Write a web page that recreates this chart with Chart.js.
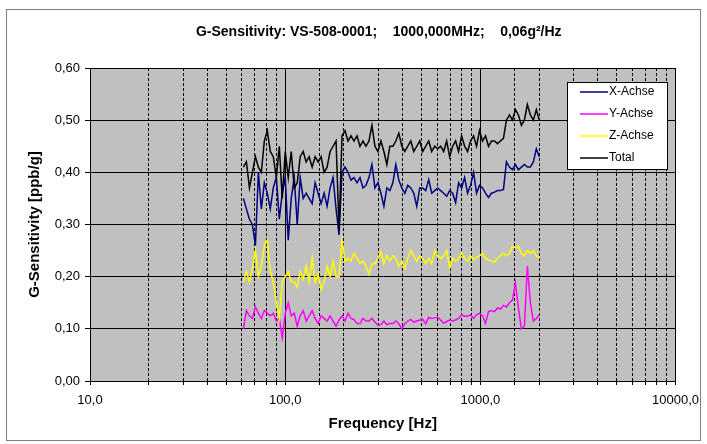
<!DOCTYPE html>
<html>
<head>
<meta charset="utf-8">
<script src="https://cdn.jsdelivr.net/npm/chart.js@4"></script>
<style>
html,body{margin:0;padding:0;background:#fff;}
#wrap{width:707px;height:444px;position:relative;}
</style>
</head>
<body>
<div id="wrap"><canvas id="c"></canvas></div>
<script>
// ---- data ----
const chartTitle = 'G-Sensitivity: VS-508-0001;    1000,000MHz;    0,06g\u00B2/Hz';
const xAxisTitle = 'Frequency [Hz]';
const yAxisTitle = 'G-Sensitivity [ppb/g]';
const seriesNames = ['X-Achse', 'Y-Achse', 'Z-Achse', 'Total'];
const xTickLabels = {10: '10,0', 100: '100,0', 1000: '1000,0', 10000: '10000,0'};

const freqHz = [
  61.1, 63.3, 65.6, 67.9, 70.4, 72.9, 75.5, 78.2, 81.0, 83.9,
  86.9, 90.1, 93.3, 96.6, 100.1, 103.7, 107.4, 111.3, 115.3, 119.4,
  123.7, 128.1, 132.7, 137.5, 142.4, 147.5, 152.8, 158.3, 164.0, 169.9,
  176.0, 182.3, 188.8, 195.6, 202.6, 209.9, 217.4, 225.2, 233.3, 241.7,
  250.4, 259.4, 268.7, 278.3, 288.3, 298.7, 309.4, 320.5, 332.0, 343.9,
  356.2, 369.0, 382.3, 396.0, 410.2, 424.9, 440.2, 456.0, 472.3, 489.3,
  506.8, 525.0, 543.9, 563.4, 583.6, 604.6, 626.3, 648.8, 672.1, 696.2,
  721.2, 747.1, 773.9, 801.7, 830.5, 860.3, 891.2, 923.2, 956.3, 990.6,
  1026.2, 1063.0, 1101.2, 1140.7, 1181.7, 1224.1, 1268.0, 1313.5, 1360.7, 1409.5,
  1460.1, 1512.5, 1566.8, 1623.1, 1681.3, 1741.7, 1804.2, 1868.9, 1936.0, 2005.5
];

const xAchse = [
  0.35, 0.33, 0.31, 0.30, 0.26, 0.40, 0.33, 0.38, 0.36, 0.33,
  0.37, 0.39, 0.31, 0.36, 0.39, 0.27, 0.35, 0.39, 0.30, 0.39,
  0.35, 0.36, 0.35, 0.34, 0.38, 0.36, 0.34, 0.36, 0.335, 0.37,
  0.39, 0.33, 0.28, 0.40, 0.41, 0.40, 0.385, 0.39, 0.38, 0.39,
  0.37, 0.375, 0.39, 0.415, 0.37, 0.38, 0.36, 0.335, 0.37, 0.365,
  0.38, 0.415, 0.385, 0.37, 0.36, 0.375, 0.37, 0.36, 0.335, 0.37,
  0.37, 0.365, 0.386, 0.36, 0.365, 0.37, 0.365, 0.36, 0.354, 0.365,
  0.36, 0.342, 0.38, 0.37, 0.39, 0.36, 0.375, 0.40, 0.36, 0.375,
  0.37, 0.36, 0.352, 0.36, 0.362, 0.365, 0.365, 0.367, 0.42, 0.41,
  0.405, 0.415, 0.405, 0.41, 0.415, 0.41, 0.41, 0.42, 0.445, 0.43
];

const yAchse = [
  0.10, 0.135, 0.125, 0.12, 0.142, 0.13, 0.12, 0.135, 0.13, 0.125,
  0.13, 0.115, 0.12, 0.083, 0.13, 0.15, 0.125, 0.13, 0.105, 0.125,
  0.135, 0.115, 0.125, 0.135, 0.12, 0.11, 0.125, 0.12, 0.115, 0.125,
  0.115, 0.105, 0.117, 0.125, 0.115, 0.13, 0.12, 0.118, 0.11, 0.11,
  0.12, 0.115, 0.115, 0.12, 0.113, 0.107, 0.108, 0.115, 0.108, 0.11,
  0.11, 0.115, 0.11, 0.10, 0.11, 0.115, 0.118, 0.113, 0.115, 0.117,
  0.118, 0.11, 0.122, 0.12, 0.121, 0.122, 0.117, 0.111, 0.114, 0.117,
  0.115, 0.117, 0.12, 0.127, 0.124, 0.124, 0.127, 0.12, 0.127, 0.13,
  0.125, 0.11, 0.133, 0.135, 0.133, 0.14, 0.138, 0.145, 0.142, 0.15,
  0.155, 0.188, 0.14, 0.10, 0.105, 0.22, 0.15, 0.115, 0.12, 0.127
];

const zAchse = [
  0.19, 0.21, 0.19, 0.215, 0.25, 0.20, 0.22, 0.26, 0.27, 0.21,
  0.19, 0.15, 0.12, 0.19, 0.20, 0.21, 0.19, 0.19, 0.18, 0.21,
  0.195, 0.22, 0.19, 0.235, 0.19, 0.205, 0.175, 0.19, 0.22, 0.20,
  0.23, 0.20, 0.20, 0.27, 0.23, 0.235, 0.23, 0.245, 0.235, 0.225,
  0.23, 0.22, 0.205, 0.225, 0.225, 0.235, 0.248, 0.225, 0.24, 0.23,
  0.24, 0.235, 0.22, 0.23, 0.215, 0.235, 0.25, 0.24, 0.23, 0.24,
  0.235, 0.225, 0.235, 0.225, 0.25, 0.24, 0.235, 0.24, 0.25, 0.217,
  0.235, 0.23, 0.235, 0.245, 0.235, 0.23, 0.24, 0.232, 0.237, 0.24,
  0.245, 0.235, 0.232, 0.23, 0.228, 0.235, 0.24, 0.245, 0.24, 0.245,
  0.258, 0.255, 0.258, 0.245, 0.24, 0.25, 0.245, 0.25, 0.24, 0.235
];

const total = [
  0.41, 0.42, 0.37, 0.40, 0.43, 0.41, 0.40, 0.46, 0.48, 0.44,
  0.43, 0.39, 0.45, 0.35, 0.44, 0.39, 0.44, 0.37, 0.38, 0.43,
  0.44, 0.42, 0.43, 0.41, 0.43, 0.42, 0.43, 0.40, 0.41, 0.44,
  0.45, 0.46, 0.29, 0.47, 0.48, 0.46, 0.47, 0.46, 0.47, 0.45,
  0.46, 0.45, 0.46, 0.49, 0.45, 0.44, 0.46, 0.44, 0.415, 0.45,
  0.45, 0.46, 0.475, 0.45, 0.44, 0.45, 0.46, 0.44, 0.45, 0.46,
  0.44, 0.45, 0.46, 0.44, 0.45, 0.445, 0.45, 0.44, 0.46, 0.43,
  0.45, 0.46, 0.44, 0.47, 0.45, 0.44, 0.46, 0.47, 0.45, 0.48,
  0.46, 0.47, 0.45, 0.46, 0.46, 0.455, 0.46, 0.465, 0.50, 0.51,
  0.50, 0.52, 0.51, 0.49, 0.50, 0.53, 0.51, 0.50, 0.52, 0.50
];

// ---- styles ----
const seriesColors = ['#000080', '#FF00FF', '#FFFF00', '#000000'];
const seriesValues = [xAchse, yAchse, zAchse, total];
const FONT = 'Arial, "Liberation Sans", sans-serif';

function isDecade(v) {
  const l = Math.log10(v);
  return Math.abs(l - Math.round(l)) < 1e-6;
}

const datasets = seriesNames.map((name, k) => ({
  label: name,
  data: freqHz.map((f, i) => ({x: f, y: seriesValues[k][i]})),
  borderColor: seriesColors[k],
  backgroundColor: seriesColors[k],
  borderWidth: 1.5,
  pointRadius: 0,
  tension: 0,
  fill: false,
  order: 4 - k
}));

const bgPlugin = {
  id: 'bgPlugin',
  beforeDraw(chart) {
    const {ctx, chartArea: a} = chart;
    ctx.save();
    ctx.fillStyle = '#ffffff';
    ctx.fillRect(0, 0, chart.width, chart.height);
    ctx.strokeStyle = '#808080';
    ctx.lineWidth = 1;
    ctx.strokeRect(6.5, 9.5, 694, 431);
    ctx.fillStyle = '#C0C0C0';
    ctx.fillRect(a.left, a.top, a.right - a.left, a.bottom - a.top);
    ctx.restore();
  }
};

// chart title, centred over the plot area as in the reference
const titlePlugin = {
  id: 'plotTitle',
  afterDraw(chart) {
    const {ctx, chartArea: a} = chart;
    ctx.save();
    ctx.font = 'bold 14px ' + FONT;
    ctx.fillStyle = '#000';
    ctx.textAlign = 'center';
    ctx.textBaseline = 'middle';
    ctx.fillText(chartTitle, (a.left + a.right) / 2 - 4, 32);
    ctx.restore();
  }
};

const legendPlugin = {
  id: 'boxLegend',
  afterDraw(chart) {
    const ctx = chart.ctx;
    const bx = 567.5, by = 82.5, bw = 100, bh = 87;
    ctx.save();
    ctx.fillStyle = '#ffffff';
    ctx.fillRect(bx, by, bw, bh);
    ctx.strokeStyle = '#000000';
    ctx.lineWidth = 1;
    ctx.strokeRect(bx, by, bw, bh);
    ctx.font = '12px ' + FONT;
    ctx.textBaseline = 'middle';
    ctx.textAlign = 'left';
    chart.data.datasets.forEach((ds, i) => {
      const y = 92 + i * 22;
      ctx.strokeStyle = ds.borderColor;
      ctx.lineWidth = 1.5;
      ctx.beginPath();
      ctx.moveTo(580, y);
      ctx.lineTo(608, y);
      ctx.stroke();
      ctx.fillStyle = '#000000';
      ctx.fillText(ds.label, 609, y);
    });
    ctx.restore();
  }
};

new Chart(document.getElementById('c'), {
  type: 'line',
  data: {datasets},
  plugins: [bgPlugin, titlePlugin, legendPlugin],
  options: {
    responsive: true,
    maintainAspectRatio: false,
    animation: false,
    devicePixelRatio: 1,
    layout: {padding: {left: 0, right: 26, top: 68, bottom: 0}},
    plugins: {
      legend: {display: false},
      tooltip: {enabled: false},
      title: {display: false}
    },
    scales: {
      x: {
        type: 'logarithmic',
        position: 'bottom',
        min: 10,
        max: 10000,
        afterFit(s) { s.height = 63; },
        ticks: {
          autoSkip: false,
          maxRotation: 0,
          color: '#000',
          padding: 8,
          font: {family: FONT, size: 13},
          callback(v) { return xTickLabels[v] !== undefined && isDecade(v) ? xTickLabels[v] : ''; }
        },
        grid: {
          color: '#000',
          lineWidth: 1,
          drawTicks: true,
          tickLength: 4,
          tickColor: '#000'
        },
        border: {
          display: true,
          color: '#000',
          width: 1,
          dash(ctx) {
            if (!ctx.tick) return [];
            return isDecade(ctx.tick.value) ? [] : [3, 2];
          }
        },
        title: {
          display: true,
          text: xAxisTitle,
          color: '#000',
          font: {family: FONT, size: 15, weight: 'bold'},
          padding: {top: 0, bottom: 11}
        }
      },
      y: {
        min: 0,
        max: 0.6,
        afterFit(s) { s.width = 90; },
        ticks: {
          stepSize: 0.1,
          color: '#000',
          padding: 5,
          font: {family: FONT, size: 13},
          callback(v) { return v.toFixed(2).replace('.', ','); }
        },
        grid: {
          color: '#000',
          lineWidth: 1,
          tickLength: 5,
          tickColor: '#000'
        },
        border: {display: true, color: '#000', width: 1},
        title: {
          display: true,
          text: yAxisTitle,
          color: '#000',
          font: {family: FONT, size: 15, weight: 'bold'},
          padding: {top: 26, bottom: 0}
        }
      }
    }
  }
});
</script>
</body>
</html>
